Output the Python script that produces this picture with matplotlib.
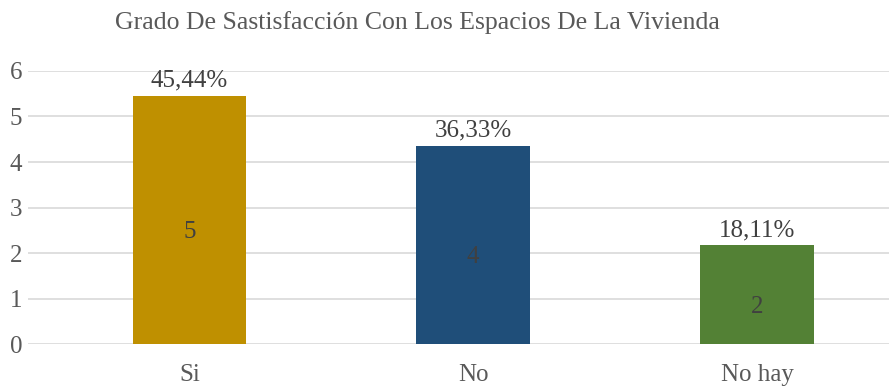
import matplotlib
matplotlib.use("Agg")
import matplotlib.pyplot as plt

categories = ["Si", "No", "No hay"]
values = [5.45, 4.36, 2.17]
counts = ["5", "4", "2"]
percents = ["45,44%", "36,33%", "18,11%"]
colors = ["#BF9000", "#1F4E79", "#538135"]

plt.rcParams["font.family"] = ["Liberation Serif", "DejaVu Serif"]

fig = plt.figure(figsize=(8.89, 3.92), dpi=100)
ax = fig.add_axes([0.031, 0.122, 0.969, 0.697])

x = range(len(categories))
bars = ax.bar(x, values, width=0.40, color=colors, zorder=3)

for b, c, p in zip(bars, counts, percents):
    cx = b.get_x() + b.get_width() / 2
    h = b.get_height()
    ax.text(cx, h / 2 - 0.26, c, ha="center", va="center", fontsize=18, color="#404040", zorder=4)
    ax.annotate(p, (cx, h), xytext=(0, 3), textcoords="offset points",
                ha="center", va="bottom", fontsize=18, color="#404040")

ax.set_xlim(-0.57, 2.465)
ax.set_ylim(0, 6)
ax.set_yticks(range(7))
ax.set_xticks(list(x))
ax.set_xticklabels(categories)
ax.tick_params(axis="both", length=0, labelsize=18, colors="#595959")
ax.tick_params(axis="x", pad=14)
ax.tick_params(axis="y", pad=4)
ax.grid(axis="y", color="#D9D9D9", linewidth=1.2, zorder=0)
for s in ax.spines.values():
    s.set_visible(False)

fig.text(0.47, 0.942, "Grado De Sastisfacción Con Los Espacios De La Vivienda",
         ha="center", va="center", fontsize=18.5, color="#595959")

fig.savefig("out.png", dpi=100)
